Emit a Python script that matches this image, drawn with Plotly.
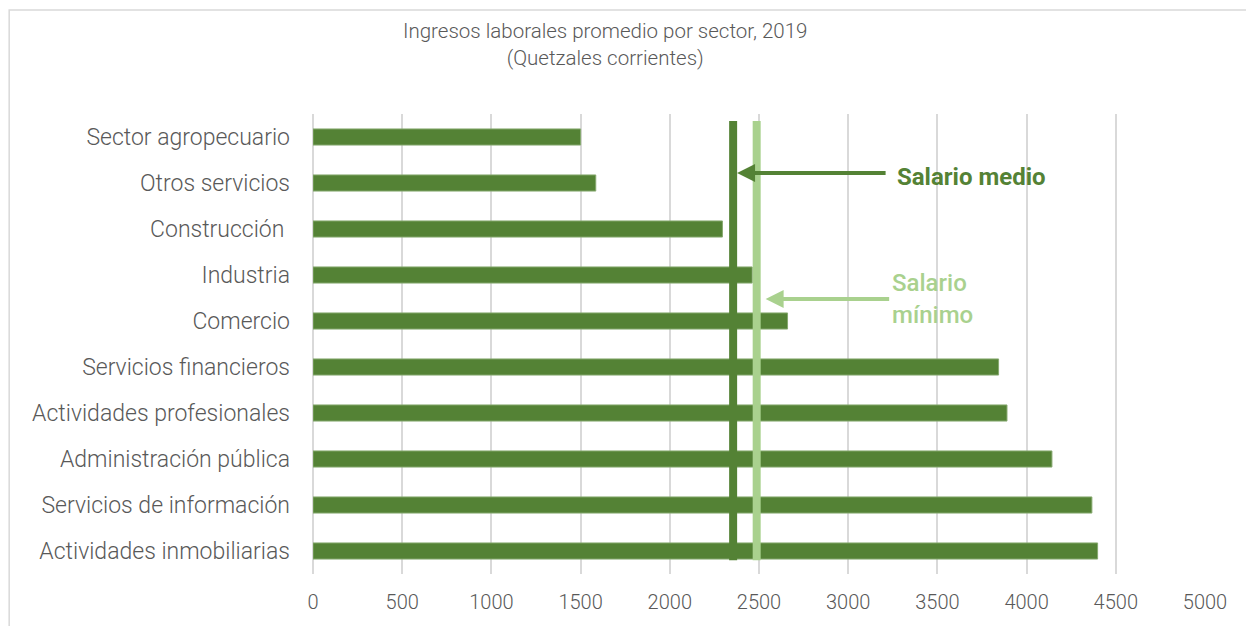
import plotly.graph_objects as go

# Average labour income by economic sector, Guatemala 2019 (current quetzales)
sectores = [
    "Sector agropecuario",
    "Otros servicios",
    "Construcción ",
    "Industria",
    "Comercio",
    "Servicios financieros",
    "Actividades profesionales",
    "Administración pública",
    "Servicios de información",
    "Actividades inmobiliarias",
]
ingresos = [1500, 1585, 2295, 2462, 2660, 3843, 3890, 4142, 4366, 4398]

salario_medio = 2355
salario_minimo = 2487

x_ticks = [0, 500, 1000, 1500, 2000, 2500, 3000, 3500, 4000, 4500, 5000]

DARK = "#548235"
LIGHT = "#A9D18E"
GRID = "#D9D9D9"
TEXT = "#595959"
FONT = "Roboto"

fig = go.Figure()
fig.add_trace(go.Bar(
    x=ingresos,
    y=sectores,
    orientation="h",
    width=0.35,
    marker=dict(color=DARK, line=dict(color="#86A96F", width=1)),
    hoverinfo="x+y",
))

# reference wage lines, spanning the bars
for val, col in [(salario_medio, DARK), (salario_minimo, LIGHT)]:
    fig.add_shape(type="line", xref="x", yref="paper",
                  x0=val, x1=val, y0=0.030, y1=0.985,
                  line=dict(color=col, width=8), layer="above")

# arrows pointing at each line
fig.add_annotation(x=salario_medio + 22, y=0.78, xref="x", yref="y",
                   ax=3218, ay=0.78, axref="x", ayref="y",
                   showarrow=True, arrowhead=2, arrowsize=0.9, arrowwidth=4,
                   arrowcolor=DARK, text="")
fig.add_annotation(x=salario_minimo + 50, y=3.52, xref="x", yref="y",
                   ax=3238, ay=3.52, axref="x", ayref="y",
                   showarrow=True, arrowhead=2, arrowsize=0.9, arrowwidth=4,
                   arrowcolor=LIGHT, text="")

fig.add_annotation(x=3262, y=0.86, xref="x", yref="y", text="<b>Salario medio</b>",
                   showarrow=False, xanchor="left", yanchor="middle",
                   font=dict(family=FONT, size=24, color=DARK))
fig.add_annotation(x=3236, y=3.17, xref="x", yref="y", text="Salario",
                   showarrow=False, xanchor="left", yanchor="middle",
                   font=dict(family=FONT, size=24, color=LIGHT, weight=500))
fig.add_annotation(x=3236, y=3.87, xref="x", yref="y", text="mínimo",
                   showarrow=False, xanchor="left", yanchor="middle",
                   font=dict(family=FONT, size=24, color=LIGHT, weight=500))

# title
fig.add_annotation(x=0.3275, y=1.151, xref="paper", yref="paper",
                   text="Ingresos laborales promedio por sector, 2019<br>(Quetzales corrientes)",
                   showarrow=False, xanchor="center", yanchor="middle",
                   font=dict(family=FONT, size=20.5, color=TEXT, weight=300))

# outer chart frame
fig.add_shape(type="rect", xref="paper", yref="paper",
              x0=-0.3406, x1=1.06, y0=-0.15, y1=1.226,
              line=dict(color=GRID, width=1.5), layer="below")

fig.update_layout(
    width=1246, height=626,
    margin=dict(l=313, r=40.5, t=114, b=52),
    paper_bgcolor="white", plot_bgcolor="white",
    showlegend=False,
    bargap=0.65,
    font=dict(family=FONT, color=TEXT),
    xaxis=dict(range=[0, 5000], tickvals=x_ticks, ticktext=[str(v) for v in x_ticks],
               showgrid=True, gridcolor=GRID, gridwidth=2,
               zeroline=True, zerolinecolor=GRID, zerolinewidth=2,
               showline=False, ticks="", ticklabelstandoff=14,
               tickfont=dict(family=FONT, size=20, color=TEXT, weight=300)),
    yaxis=dict(autorange="reversed", showgrid=False, showline=False, ticks="",
               ticklabelstandoff=22,
               tickfont=dict(family=FONT, size=23, color=TEXT, weight=300)),
)

fig.write_html("out.html")
